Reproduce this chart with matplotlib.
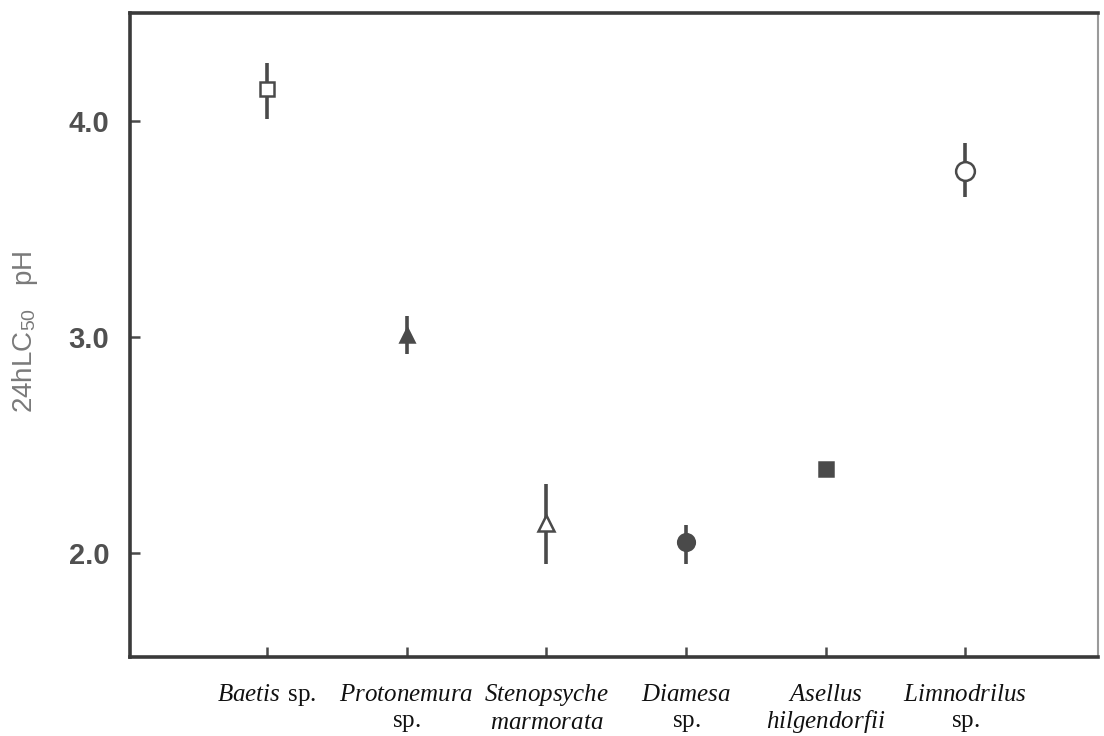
import matplotlib
matplotlib.use("Agg")
import matplotlib.pyplot as plt

# ---- data ----
genus = ["Baetis", "Protonemura", "Stenopsyche", "Diamesa", "Asellus", "Limnodrilus"]
epithet = ["sp.", "sp.", "marmorata", "sp.", "hilgendorfii", "sp."]
epithet_italic = [False, False, True, False, True, False]
same_line = [True, False, False, False, False, False]
lc50 = [4.15, 3.01, 2.14, 2.05, 2.39, 3.77]
err_low = [4.01, 2.92, 1.95, 1.95, 2.39, 3.65]
err_high = [4.27, 3.10, 2.32, 2.13, 2.39, 3.90]
markers = ["s", "^", "^", "o", "s", "o"]
filled = [False, True, False, True, True, False]
marker_sizes = [9.5, 9.5, 11, 12, 10.5, 13.5]
yticks = [2.0, 3.0, 4.0]
ytick_labels = ["2.0", "3.0", "4.0"]

plt.rcParams['mathtext.fontset'] = 'custom'
plt.rcParams['mathtext.rm'] = 'Liberation Serif'
plt.rcParams['mathtext.it'] = 'Liberation Serif:italic'
plt.rcParams['mathtext.sf'] = 'Liberation Sans'

fig = plt.figure(figsize=(11.04, 7.36), dpi=100)
ax = fig.add_axes([0.1178, 0.1073, 0.8768, 0.875])

dark = "#4a4a4a"
x = list(range(len(genus)))
for i in x:
    lo = lc50[i] - err_low[i]
    hi = err_high[i] - lc50[i]
    if hi > 0 or lo > 0:
        ax.errorbar([i], [lc50[i]], yerr=[[lo], [hi]], fmt="none",
                    ecolor=dark, elinewidth=2.6, capsize=0, zorder=2)
    ax.plot([i], [lc50[i]], marker=markers[i], markersize=marker_sizes[i],
            markerfacecolor=dark if filled[i] else "white",
            markeredgecolor=dark, markeredgewidth=1.8, linestyle="none", zorder=3)

ax.set_xlim(-0.98, 5.95)
ax.set_ylim(1.52, 4.5)

# x tick labels (genus italic, epithet)
labels = []
for g, e, it, sl in zip(genus, epithet, epithet_italic, same_line):
    gpart = r"$\mathit{" + g + "}$"
    epart = (r"$\mathit{" + e + "}$") if it else r"$\mathrm{" + e + "}$"
    sep = " " if sl else "\n"
    labels.append(gpart + sep + epart)
ax.set_xticks(x)
ax.set_xticklabels(labels, fontsize=18, color="#111111", linespacing=1.12)

ax.set_yticks(yticks)
ax.set_yticklabels(ytick_labels, fontsize=21, fontweight="bold",
                   color="#505050", family="Liberation Sans")

ax.tick_params(axis="both", direction="in", length=7, width=1.8, color=dark)
ax.tick_params(axis="x", pad=18)
ax.tick_params(axis="y", pad=15)

for side in ["left", "bottom", "top"]:
    ax.spines[side].set_linewidth(2.6)
    ax.spines[side].set_color("#3a3a3a")
ax.spines["right"].set_linewidth(1.5)
ax.spines["right"].set_color("#9a9a9a")

ax.set_ylabel(r"24hLC$_{\mathsf{50}}$   pH", fontsize=20, color="#7a7a7a",
              family="Liberation Sans", labelpad=16)
ax.yaxis.set_label_coords(-0.093, 0.505)

fig.savefig("out.png", dpi=100, facecolor="white")
